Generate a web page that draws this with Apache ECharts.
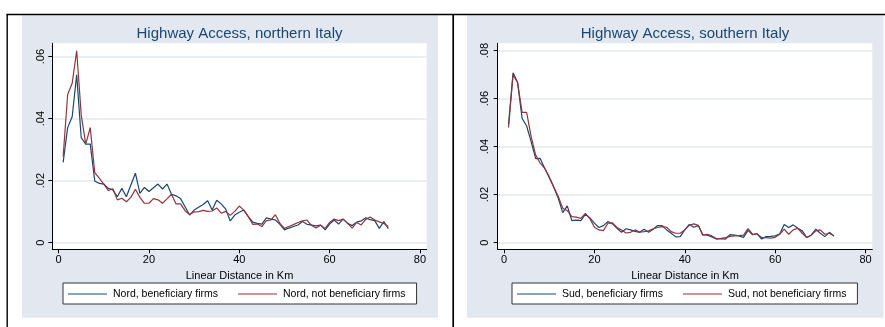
<!DOCTYPE html>
<html>
<head>
<meta charset="utf-8">
<script src="https://cdn.jsdelivr.net/npm/echarts@6/dist/echarts.min.js"></script>
<style>
  html, body { margin: 0; padding: 0; background: #ffffff; }
  #chart { width: 885px; height: 327px; }
</style>
</head>
<body>
<div id="chart"></div>
<script>
// Distance from the nearest highway entrance (km)
const distanceKm = [
  1, 2, 3, 4, 5, 6, 7, 8, 9, 10, 11, 12, 13, 14, 15, 16, 17, 18, 19, 20,
  21, 22, 23, 24, 25, 26, 27, 28, 29, 30, 31, 32, 33, 34, 35, 36, 37, 38, 39, 40,
  41, 42, 43, 44, 45, 46, 47, 48, 49, 50, 51, 52, 53, 54, 55, 56, 57, 58, 59, 60,
  61, 62, 63, 64, 65, 66, 67, 68, 69, 70, 71, 72, 73
];

// Share of firms at each distance, northern Italy
const nordBeneficiary = [
  .0259, .0371, .0406, .0541, .0339, .0318, .0318, .0199, .0191, .0189,
  .0175, .0170, .0148, .0175, .0148, .0186, .0224, .0159, .0178, .0165,
  .0177, .0189, .0173, .0189, .0156, .0151, .0142, .0116, .0089, .0105,
  .0114, .0123, .0135, .0105, .0137, .0125, .0108, .0070, .0089, .0098,
  .0105, .0084, .0066, .0062, .0060, .0080, .0076, .0073, .0059, .0041,
  .0047, .0052, .0057, .0068, .0059, .0057, .0054, .0057, .0041, .0060,
  .0073, .0060, .0076, .0062, .0055, .0066, .0070, .0080, .0074, .0071,
  .0046, .0068, .0045
];
const nordNotBeneficiary = [
  .0277, .0478, .0514, .0619, .0412, .0318, .0371, .0226, .0208, .0189,
  .0168, .0174, .0138, .0143, .0132, .0146, .0172, .0146, .0127, .0127,
  .0142, .0138, .0127, .0141, .0156, .0125, .0125, .0103, .0091, .0099,
  .0100, .0104, .0101, .0102, .0112, .0095, .0101, .0088, .0101, .0118,
  .0105, .0084, .0059, .0060, .0052, .0071, .0073, .0090, .0062, .0046,
  .0052, .0058, .0065, .0070, .0073, .0055, .0047, .0056, .0046, .0065,
  .0076, .0071, .0076, .0062, .0047, .0065, .0057, .0075, .0083, .0073,
  .0067, .0062, .0052
];

// Share of firms at each distance, southern Italy
const sudBeneficiary = [
  .0494, .0708, .0668, .0518, .0486, .0421, .0350, .0351, .0310, .0271,
  .0231, .0185, .0125, .0153, .0092, .0094, .0092, .0118, .0103, .0081,
  .0063, .0071, .0088, .0078, .0060, .0043, .0058, .0053, .0047, .0043,
  .0056, .0043, .0056, .0071, .0071, .0053, .0039, .0024, .0025, .0053,
  .0076, .0064, .0071, .0032, .0031, .0024, .0015, .0017, .0015, .0033,
  .0031, .0028, .0022, .0051, .0033, .0038, .0015, .0025, .0026, .0028,
  .0036, .0076, .0063, .0074, .0060, .0049, .0021, .0032, .0056, .0039,
  .0025, .0043, .0028
];
const sudNotBeneficiary = [
  .0480, .0699, .0667, .0543, .0543, .0442, .0365, .0331, .0310, .0275,
  .0233, .0192, .0143, .0133, .0108, .0106, .0101, .0122, .0100, .0064,
  .0053, .0050, .0081, .0082, .0063, .0053, .0040, .0043, .0053, .0044,
  .0046, .0049, .0058, .0063, .0067, .0064, .0046, .0039, .0039, .0053,
  .0072, .0078, .0072, .0031, .0035, .0028, .0017, .0018, .0021, .0026,
  .0028, .0029, .0031, .0058, .0035, .0036, .0021, .0021, .0019, .0022,
  .0035, .0056, .0035, .0053, .0060, .0039, .0021, .0031, .0049, .0053,
  .0035, .0039, .0028
];

// Axis ticks
const xTicks = [0, 20, 40, 60, 80];
const yTicksNord = [0, 0.02, 0.04, 0.06];
const yTicksSud = [0, 0.02, 0.04, 0.06, 0.08];

const titles = ['Highway Access, northern Italy', 'Highway Access, southern Italy'];
const xTitle = 'Linear Distance in Km';
const seriesNames = [
  'Nord, beneficiary firms', 'Nord, not beneficiary firms',
  'Sud, beneficiary firms', 'Sud, not beneficiary firms'
];

const NAVY = '#1a476f';
const MAROON = '#90353b';
const PANEL_BG = '#e2e7f0';
const GRID_LINE = '#e3e8f1';
const FONT = 'Liberation Sans, Arial, sans-serif';

const pairs = vals => distanceKm.map((d, i) => [d, vals[i]]);
const decimalLabel = v => (v === 0 ? '0' : String(+v.toFixed(2)).replace(/^0/, ''));

function xAxisFor(gridIndex) {
  return {
    type: 'value', gridIndex, min: -1.4, max: 81.5,
    name: xTitle, nameLocation: 'middle', nameGap: 17,
    nameTextStyle: { fontFamily: FONT, fontSize: 11, color: '#000' },
    axisLine: { onZero: false, lineStyle: { color: '#000', width: 1 } },
    axisTick: { customValues: xTicks, length: 4, lineStyle: { color: '#000' } },
    axisLabel: {
      customValues: xTicks, margin: 5, fontFamily: FONT, fontSize: 11, color: '#000',
      formatter: v => String(v)
    },
    splitLine: { show: false }
  };
}

function yAxisFor(gridIndex, ticks, min, max, margin) {
  return {
    type: 'value', gridIndex, min, max,
    axisLine: { show: true, onZero: false, lineStyle: { color: '#000', width: 1 } },
    axisTick: { show: true, customValues: ticks, length: 4, lineStyle: { color: '#000' } },
    axisLabel: {
      customValues: ticks, rotate: 90, margin, fontFamily: FONT, fontSize: 11, color: '#000',
      formatter: decimalLabel
    },
    splitLine: { show: true, lineStyle: { color: GRID_LINE, width: 1.5 } }
  };
}

function lineSeries(name, vals, color, idx) {
  return {
    name, type: 'line', xAxisIndex: idx, yAxisIndex: idx,
    data: pairs(vals), symbol: 'none', showSymbol: false,
    lineStyle: { color, width: 1.2 }, itemStyle: { color },
    animation: false, z: color === NAVY ? 3 : 4
  };
}

function legendFor(names, left) {
  return {
    data: names, left, top: 283, orient: 'horizontal',
    icon: 'rect', itemWidth: 39, itemHeight: 1.2, itemGap: 20,
    padding: [4, 11, 3, 5],
    backgroundColor: '#ffffff', borderColor: '#333', borderWidth: 1, borderRadius: 0,
    textStyle: { fontFamily: FONT, fontSize: 10.5, color: '#000', padding: [1, 0, 0, 1], lineHeight: 13 },
    selectedMode: false
  };
}

const chart = echarts.init(document.getElementById('chart'), null, { renderer: 'canvas' });

chart.setOption({
  animation: false,
  backgroundColor: '#ffffff',
  graphic: [
    { type: 'rect', z: -20, shape: { x: 22, y: 15.3, width: 416, height: 302.5 }, style: { fill: PANEL_BG } },
    { type: 'rect', z: -20, shape: { x: 467, y: 15.3, width: 416.5, height: 302.5 }, style: { fill: PANEL_BG } },
    { type: 'line', z: 50, shape: { x1: 6.5, y1: 14.6, x2: 885, y2: 14.6 }, style: { stroke: '#000', lineWidth: 1.5 } },
    { type: 'line', z: 50, shape: { x1: 7.2, y1: 14, x2: 7.2, y2: 327 }, style: { stroke: '#000', lineWidth: 1.4 } },
    { type: 'line', z: 50, shape: { x1: 453.2, y1: 14, x2: 453.2, y2: 327 }, style: { stroke: '#000', lineWidth: 1.7 } }
  ],
  title: [
    {
      text: titles[0], left: 239.5, top: 26, textAlign: 'center', padding: 0,
      textStyle: { fontFamily: FONT, fontSize: 15, fontWeight: 'normal', color: NAVY }
    },
    {
      text: titles[1], left: 685, top: 26, textAlign: 'center', padding: 0,
      textStyle: { fontFamily: FONT, fontSize: 15, fontWeight: 'normal', color: NAVY }
    }
  ],
  grid: [
    { left: 52.3, top: 43.3, width: 374.4, height: 206, show: true, backgroundColor: '#ffffff', borderWidth: 0 },
    { left: 497.7, top: 43.3, width: 374.6, height: 206, show: true, backgroundColor: '#ffffff', borderWidth: 0 }
  ],
  xAxis: [xAxisFor(0), xAxisFor(1)],
  yAxis: [
    yAxisFor(0, yTicksNord, -0.00215, 0.0643, 6),
    yAxisFor(1, yTicksSud, -0.00278, 0.08306, 7)
  ],
  legend: [
    legendFor([seriesNames[0], seriesNames[1]], 63),
    legendFor([seriesNames[2], seriesNames[3]], 512)
  ],
  series: [
    lineSeries(seriesNames[0], nordBeneficiary, NAVY, 0),
    lineSeries(seriesNames[1], nordNotBeneficiary, MAROON, 0),
    lineSeries(seriesNames[2], sudBeneficiary, NAVY, 1),
    lineSeries(seriesNames[3], sudNotBeneficiary, MAROON, 1)
  ]
});
</script>
</body>
</html>
